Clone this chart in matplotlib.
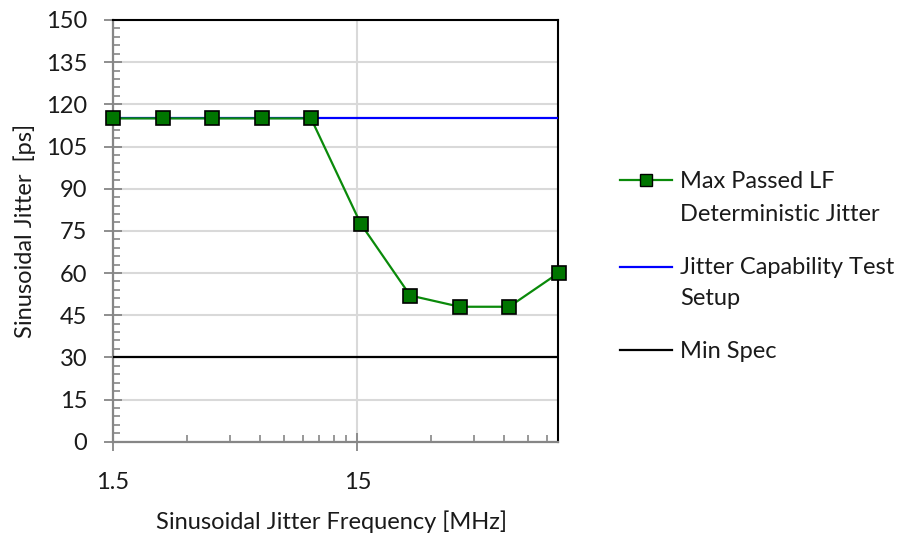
import matplotlib
matplotlib.use("Agg")
import matplotlib.pyplot as plt
from matplotlib.ticker import FixedLocator, NullFormatter
from matplotlib.lines import Line2D

plt.rcParams['font.family'] = ['Lato', 'DejaVu Sans']

# Data
freq_mhz = [1.5, 2.4, 3.8, 6.1, 9.7, 15.5, 24.7, 39.4, 62.8, 100]
max_passed_jitter = [115, 115, 115, 115, 115, 77.5, 52, 48, 48, 60]
capability_level = 115
min_spec_level = 30
y_ticks = list(range(0, 151, 15))
x_major_ticks = [1.5, 15, 150]
x_tick_labels = ["1.5", "15", "150"]
legend_lines = [["Max Passed LF", "Deterministic Jitter"],
                ["Jitter Capability Test", "Setup"],
                ["Min Spec"]]

W, H = 904, 533
FS = 17
TXT = "#1a1a1a"
fig = plt.figure(figsize=(W / 100, H / 100), dpi=100)
L, R, T, B = 113, 558, 20, 441.7
ax = fig.add_axes([L / W, 1 - B / H, (R - L) / W, (B - T) / H])

green_line = "#0a8a0a"
green_face = "#007500"

ax.axhline(capability_level, color="#0000ff", lw=1.6, zorder=3)
ax.axhline(min_spec_level, color="black", lw=1.6, zorder=3)
ax.plot(freq_mhz, max_passed_jitter, color=green_line, lw=1.6,
        marker="s", markersize=10, markerfacecolor=green_face,
        markeredgecolor="black", markeredgewidth=1.2, zorder=4, clip_on=False)

ax.set_xscale("log")
ax.set_xlim(1.5, 99.5)
ax.set_ylim(0, 150)

ax.xaxis.set_major_locator(FixedLocator(x_major_ticks))
ax.set_xticklabels(x_tick_labels)
minor_x = [1.5 * k * 10 ** n for n in range(0, 2) for k in range(2, 10)]
ax.xaxis.set_minor_locator(FixedLocator(minor_x))
ax.xaxis.set_minor_formatter(NullFormatter())

ax.set_yticks(y_ticks)
ax.yaxis.set_minor_locator(FixedLocator(list(range(0, 151, 3))))

ax.grid(True, which="major", color="#d9d9d9", lw=1.5, zorder=0)
ax.set_axisbelow(True)

for s in ("left", "bottom"):
    ax.spines[s].set_color("#868686")
    ax.spines[s].set_linewidth(1.6)
for s in ("top", "right"):
    ax.spines[s].set_color("black")
    ax.spines[s].set_linewidth(1.5)

ax.tick_params(axis="both", which="major", direction="inout", length=13,
               width=1.3, color="#868686", labelsize=FS, labelcolor=TXT)
ax.tick_params(axis="y", which="major", pad=12)
ax.tick_params(axis="x", which="major", pad=15)
ax.tick_params(axis="both", which="minor", direction="in", length=5,
               width=1.2, color="#868686")

ax.set_ylabel("Sinusoidal Jitter  [ps]", fontsize=FS, color=TXT)
ax.yaxis.label.set_va("center")
ax.yaxis.set_label_coords((25 - L) / (R - L), 0.5)
ax.set_xlabel("Sinusoidal Jitter Frequency [MHz]", fontsize=FS, color=TXT)
ax.xaxis.label.set_va("center")
ax.xaxis.set_label_coords((331 - L) / (R - L), (B - 522) / (B - T))

# Manual legend (right side)
entries = [
    (dict(color=green_line, lw=1.6), True, [180, 213]),
    (dict(color="#0000ff", lw=1.6), False, [266.5, 297]),
    (dict(color="black", lw=1.6), False, [350]),
]
for (style, has_marker, ys), lines in zip(entries, legend_lines):
    yf = 1 - ys[0] / H
    fig.add_artist(Line2D([620 / W, 672 / W], [yf, yf],
                          transform=fig.transFigure, **style))
    if has_marker:
        fig.add_artist(Line2D([646 / W], [yf], transform=fig.transFigure,
                              linestyle="none", marker="s", markersize=8,
                              markerfacecolor=green_face,
                              markeredgecolor="black", markeredgewidth=1.0))
    for ypx, txt in zip(ys, lines):
        fig.text(680 / W, 1 - (ypx + 8) / H, txt, fontsize=FS, color=TXT,
                 ha="left", va="baseline")

fig.savefig("out.png", dpi=100)
